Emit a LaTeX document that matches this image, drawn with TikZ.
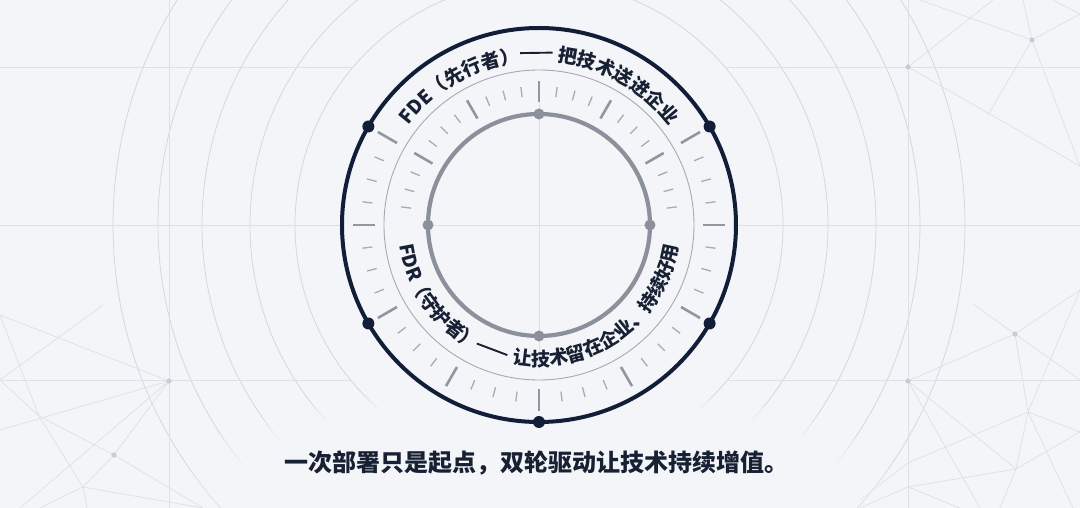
\documentclass[tikz,border=0pt]{standalone}
\usepackage{fontspec}
\newfontfamily\cjk{Noto Sans CJK SC}
\usetikzlibrary{decorations.text,fadings}
\definecolor{bg}{RGB}{243,245,248}
\definecolor{navy}{RGB}{18,30,56}
\definecolor{ink}{RGB}{24,33,52}
\definecolor{ringgray}{RGB}{138,145,156}
\definecolor{thingray}{RGB}{165,170,178}
\definecolor{tickgray}{RGB}{145,151,160}
\definecolor{gridline}{RGB}{221,224,229}
\definecolor{arcline}{RGB}{212,215,221}
\definecolor{netdotc}{RGB}{200,204,211}
\newcommand{\longdash}{\rule[0.38em]{1.72em}{0.1em}}
\newcommand{\dashgap}{\hspace{0.4em}}
\begin{document}
\begin{tikzpicture}[x=1pt,y=1pt,
  gridln/.style={draw=gridline, line width=0.8pt},
  bgarc/.style={draw=arcline, line width=0.8pt},
  net/.style={draw=gridline, line width=0.7pt},
  netdot/.style={fill=netdotc},
  majortick/.style={draw=tickgray, line width=2.6pt},
  minortick/.style={draw=tickgray!80, line width=1.3pt},
  navydot/.style={fill=navy},
  graydot/.style={fill=ringgray},
  arctext/.style={decorate, decoration={text along path, text align=center, text color=ink,
     text={|\cjk\bfseries\fontsize{19}{19}\selectfont|#1}}},
]
\fill[bg] (-539,-283) rectangle (541,225);
\useasboundingbox (-539,-283) rectangle (541,225);
\begin{scope}
  \clip (-539,-283) rectangle (541,225);
  \foreach \r in {244,289,337,381,426} \draw[bgarc] (0,0) circle[radius=\r];
  % grid
  \draw[gridln] (-539,158) -- (-186,158);
  \draw[gridln] (186,158) -- (541,158);
  \draw[gridln] (-539,-155) -- (-188,-155);
  \draw[gridln] (188,-155) -- (541,-155);
  \draw[gridln] (-539,0) -- (541,0);
  \draw[gridln] (-370,-283) -- (-370,225);
  \draw[gridln] (369,-283) -- (369,225);
  % constellations in pixel coordinates
  \begin{scope}[shift={(-539,225)}, yscale=-1]
    \coordinate (P1) at (169,381); \coordinate (P2) at (114,455);
    \coordinate (A) at (39,416);  \coordinate (B) at (83,487);
    \draw[net] (0,315) -- (P1);
    \draw[net] (103,305) -- (0,380);
    \draw[net] (0,315) -- (A) -- (B) -- (87,508);
    \draw[net] (0,380) -- (A) -- (P2) -- (203,508);
    \draw[net] (0,430) -- (P1);
    \draw[net] (P1) -- (20,508);
    \draw[net] (P1) -- (P2) -- (B);
    \draw[net] (B) -- (203,508);
    \draw[net] (B) -- (40,508);
    \fill[netdot] (P1) circle[radius=2.6];
    \fill[netdot] (P2) circle[radius=2.6];
    % top right
    \coordinate (Q1) at (908,67); \coordinate (Q2) at (1032,40);
    \draw[net] (Q1) -- (993,0);
    \draw[net] (920,0) -- (Q2) -- (1080,14);
    \draw[net] (Q2) -- (988,115);
    \draw[net] (1023,0) -- (Q2) -- (1080,166);
    \draw[net] (Q1) -- (1080,166);
    \draw[net] (1053,0) -- (1080,14);
    \fill[netdot] (Q1) circle[radius=2.6];
    \fill[netdot] (Q2) circle[radius=2.6];
    % bottom right
    \coordinate (R1) at (908,381); \coordinate (R2) at (1015,334);
    \coordinate (C) at (1028,412); \coordinate (D) at (1016,469);
    \coordinate (E) at (908,463); \coordinate (F) at (908,487);
    \draw[net] (973,304) -- (R2) -- (1080,380);
    \draw[net] (R2) -- (1080,290);
    \draw[net] (R1) -- (R2);
    \draw[net] (R2) -- (C);
    \draw[net] (1080,290) -- (C);
    \draw[net] (C) -- (1080,432);
    \draw[net] (C) -- (D);
    \draw[net] (C) -- (E);
    \draw[net] (D) -- (1080,432);
    \draw[net] (D) -- (1000,508);
    \draw[net] (R1) -- (D);
    \draw[net] (R1) -- (980,508);
    \draw[net] (C) -- (1073,508);
    \draw[net] (E) -- (860,500);
    \draw[net] (F) -- (D);
    \draw[net] (F) -- (960,508);
    \draw[net] (860,508) -- (F);
    \fill[netdot] (R1) circle[radius=2.6];
    \fill[netdot] (R2) circle[radius=2.6];
  \end{scope}
  % soft glow that hides the arcs under the caption
  \fill[bg, path fading=circle with fuzzy edge 20 percent] (0,-250) ellipse[x radius=360, y radius=95];
\end{scope}
% cover the ring zone
\fill[bg] (0,0) circle[radius=197];
\draw[gridln] (-111,0) -- (111,0);
\draw[gridln] (0,-144) -- (0,144);
% circles
\draw[thingray, line width=0.9pt] (0,0) circle[radius=155];
\draw[ringgray, line width=4.2pt] (0,0) circle[radius=111];
\draw[navy, line width=4pt] (0,0) circle[radius=197];
% outer ring ticks
\foreach \i in {0,...,32}{
  \pgfmathsetmacro\a{150+7.5*\i}
  \pgfmathtruncatemacro\m{mod(\i,4)}
  \ifnum\m=0 \draw[majortick] (\a:164) -- (\a:186);
  \else \draw[minortick] (\a:168) -- (\a:178); \fi
}
% inner ring ticks
\foreach \i in {1,...,23}{
  \pgfmathsetmacro\a{7.5*\i}
  \pgfmathtruncatemacro\m{mod(\i,4)}
  \ifnum\m=0 \draw[majortick] (\a:123) -- (\a:144);
  \else \draw[minortick] (\a:129) -- (\a:139); \fi
}
% dots
\foreach \a in {30,150,210,270,330} \fill[navydot] (\a:197) circle[radius=6];
\foreach \a in {0,90,180,270} \fill[graydot] (\a:111) circle[radius=5.5];
% arc texts
\path[arctext={FDE（先行者）{\longdash} 把技术送进企业}] (180:164) arc[start angle=180, end angle=0, radius=164];
\path[arctext={FDR（守护者）{\longdash}{\dashgap}让技术留在企业、持续好用}] (180:141) arc[start angle=180, end angle=360, radius=141];
% caption
\node[font=\cjk\bfseries\fontsize{24}{24}\selectfont, text=ink, inner sep=0pt] (caption) at (-2,-238) {一次部署只是起点，双轮驱动让技术持续增值。};
\end{tikzpicture}
\end{document}
